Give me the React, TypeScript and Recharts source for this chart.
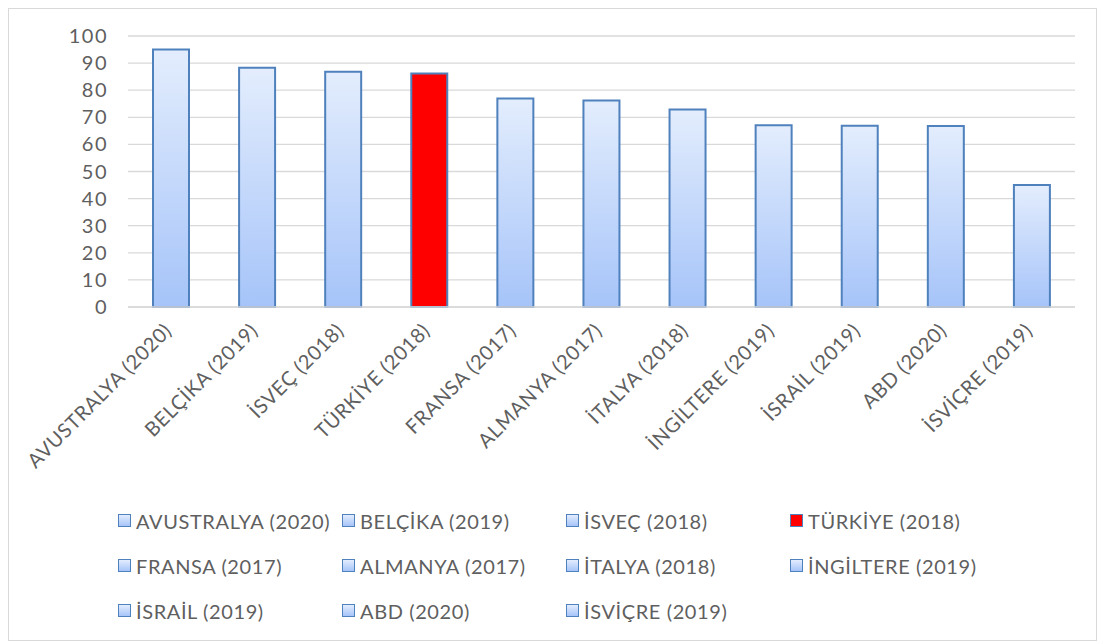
import { Bar, BarChart, CartesianGrid, Cell, XAxis, YAxis } from 'recharts';

const categories = [
    'AVUSTRALYA (2020)',
    'BELÇİKA (2019)',
    'İSVEÇ (2018)',
    'TÜRKİYE (2018)',
    'FRANSA (2017)',
    'ALMANYA (2017)',
    'İTALYA (2018)',
    'İNGİLTERE (2019)',
    'İSRAİL (2019)',
    'ABD (2020)',
    'İSVİÇRE (2019)',
];
const values = [95, 88.3, 86.8, 86.2, 76.9, 76.2, 72.9, 67.1, 66.9, 66.8, 45];
const yTicks = [0, 10, 20, 30, 40, 50, 60, 70, 80, 90, 100];
const highlighted = 'TÜRKİYE (2018)';

const FONT = 'Lato, "Open Sans", sans-serif';
const TEXT = '#5f5f5f';
const BORDER = '#4F81BD';

const data = categories.map((name, i) => ({ name, value: values[i] }));

function XTick({ x, y, payload }: any) {
    const ax = x + 2;
    const ay = y + 17;
    return (
        <text
            x={ax}
            y={ay}
            transform={`rotate(-45, ${ax}, ${ay})`}
            textAnchor="end"
            fill={TEXT}
            fontSize={20}
            letterSpacing={0.6}
            fontFamily={FONT}
        >
            {payload.value}
        </text>
    );
}

function YTick({ x, y, payload }: any) {
    return (
        <text x={x} y={y} dy={7} textAnchor="end" fill={TEXT} fontSize={20} letterSpacing={1.5} fontFamily={FONT}>
            {payload.value}
        </text>
    );
}

function LegendSwatch({ red }: { red: boolean }) {
    return (
        <span
            style={{
                display: 'inline-block',
                width: 11,
                height: 11,
                border: `1.5px solid ${BORDER}`,
                background: red ? '#FF0000' : 'linear-gradient(#E3EDFD, #A6C4F9)',
                marginRight: 5,
            }}
        />
    );
}

export default function App() {
    return (
        <div
            style={{
                position: 'relative',
                width: 1087,
                height: 631,
                border: '1px solid #D9D9D9',
                background: '#fff',
                fontFamily: FONT,
            }}
        >
            <BarChart
                width={1087}
                height={631}
                data={data}
                margin={{ top: 27, right: 21, left: 0, bottom: 183 }}
                barCategoryGap="0%"
            >
                <defs>
                    <linearGradient id="blueFill" x1="0" y1="0" x2="0" y2="1">
                        <stop offset="0%" stopColor="#E3EDFD" />
                        <stop offset="100%" stopColor="#A6C4F9" />
                    </linearGradient>
                </defs>
                <CartesianGrid vertical={false} stroke="#D9D9D9" strokeWidth={1.3} />
                <XAxis
                    dataKey="name"
                    height={150}
                    interval={0}
                    axisLine={{ stroke: '#D9D9D9', strokeWidth: 1.3 }}
                    tickLine={false}
                    tick={<XTick />}
                />
                <YAxis
                    width={119}
                    domain={[0, 100]}
                    ticks={yTicks}
                    axisLine={false}
                    tickLine={false}
                    tickSize={0}
                    tickMargin={20}
                    tick={<YTick />}
                />
                <Bar dataKey="value" barSize={36} stroke={BORDER} strokeWidth={2} isAnimationActive={false}>
                    {data.map((entry) => (
                        <Cell key={entry.name} fill={entry.name === highlighted ? '#FF0000' : 'url(#blueFill)'} />
                    ))}
                </Bar>
            </BarChart>
            <div
                style={{
                    position: 'absolute',
                    left: 109,
                    top: 499,
                    width: 900,
                    display: 'grid',
                    gridTemplateColumns: 'repeat(4, 224px)',
                    rowGap: 20,
                }}
            >
                {categories.map((name) => (
                    <div
                        key={name}
                        style={{
                            display: 'flex',
                            alignItems: 'center',
                            height: 25,
                            color: TEXT,
                            fontSize: 20,
                            letterSpacing: 0.6,
                            whiteSpace: 'nowrap',
                        }}
                    >
                        <LegendSwatch red={name === highlighted} />
                        {name}
                    </div>
                ))}
            </div>
        </div>
    );
}
